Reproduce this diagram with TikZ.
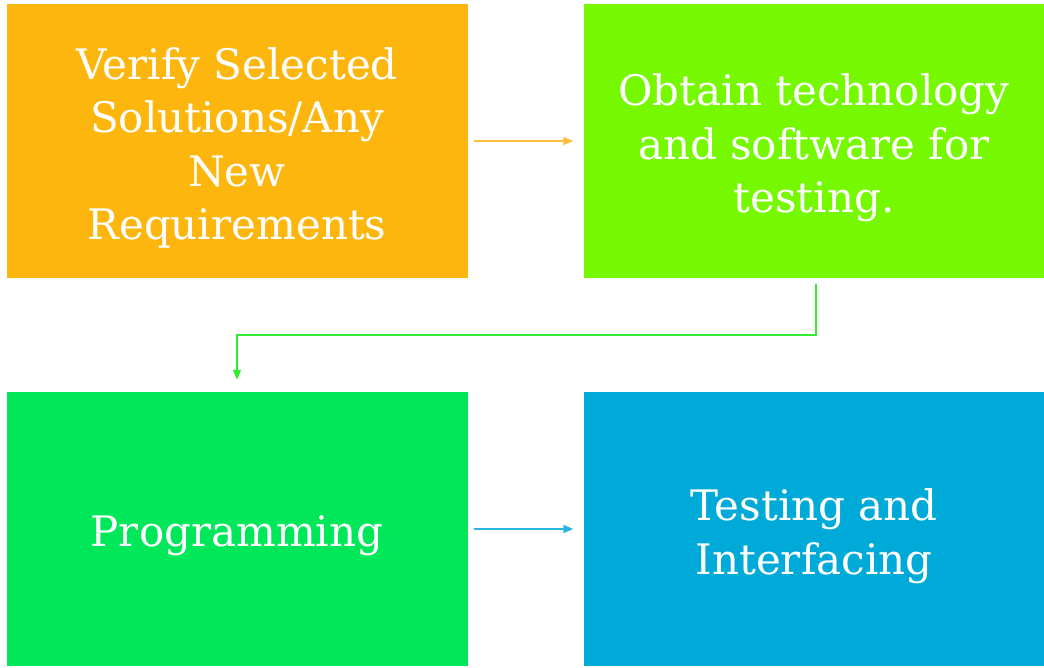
\documentclass[tikz,border=0pt]{standalone}
\usepackage{fontspec}
\setmainfont{DejaVu Serif}
\usetikzlibrary{arrows.meta}
\definecolor{cOrange}{RGB}{253,182,14}
\definecolor{cLime}{RGB}{118,248,0}
\definecolor{cGreen}{RGB}{0,232,90}
\definecolor{cBlue}{RGB}{0,170,216}
\definecolor{aOrange}{RGB}{255,190,60}
\definecolor{aGreen}{RGB}{50,235,50}
\definecolor{aBlue}{RGB}{40,180,225}
\tikzset{
  block/.style={minimum width=461pt, minimum height=274pt, inner sep=0pt},
  blocktext/.style={text=white, align=center, inner sep=0pt,
    font=\fontsize{42}{53.5}\selectfont, yshift=-7pt},
  link/.style={line width=1.6pt, -{Triangle[length=10pt,width=8pt]}},
}
\begin{document}
\begin{tikzpicture}[x=1pt,y=1pt]
\useasboundingbox (0,0) rectangle (1044,-668);
\node[block, fill=cOrange] (verify) at (237,-141) {};
\node[block, fill=cLime] (obtain) at (814,-141) {};
\node[block, fill=cGreen] (prog) at (237,-529) {};
\node[block, fill=cBlue] (test) at (814,-529) {};
\node[blocktext] (verifytext) at (verify.center) {Verify Selected\\Solutions/Any\\New\\Requirements};
\node[blocktext] (obtaintext) at (obtain.center) {Obtain technology\\and software for\\testing.};
\node[blocktext] (progtext) at (prog.center) {Programming};
\node[blocktext] (testtext) at (test.center) {Testing and\\Interfacing};
\coordinate (bend) at (816,-335);
\draw[link, aOrange, shorten <=6pt, shorten >=10pt] (verify.east) -- (obtain.west);
\draw[link, aGreen, shorten <=6pt, shorten >=12pt] (obtain.south -| bend) -- (bend) -| (prog.north);
\draw[link, aBlue, shorten <=6pt, shorten >=10pt] (prog.east) -- (test.west);
\end{tikzpicture}
\end{document}
